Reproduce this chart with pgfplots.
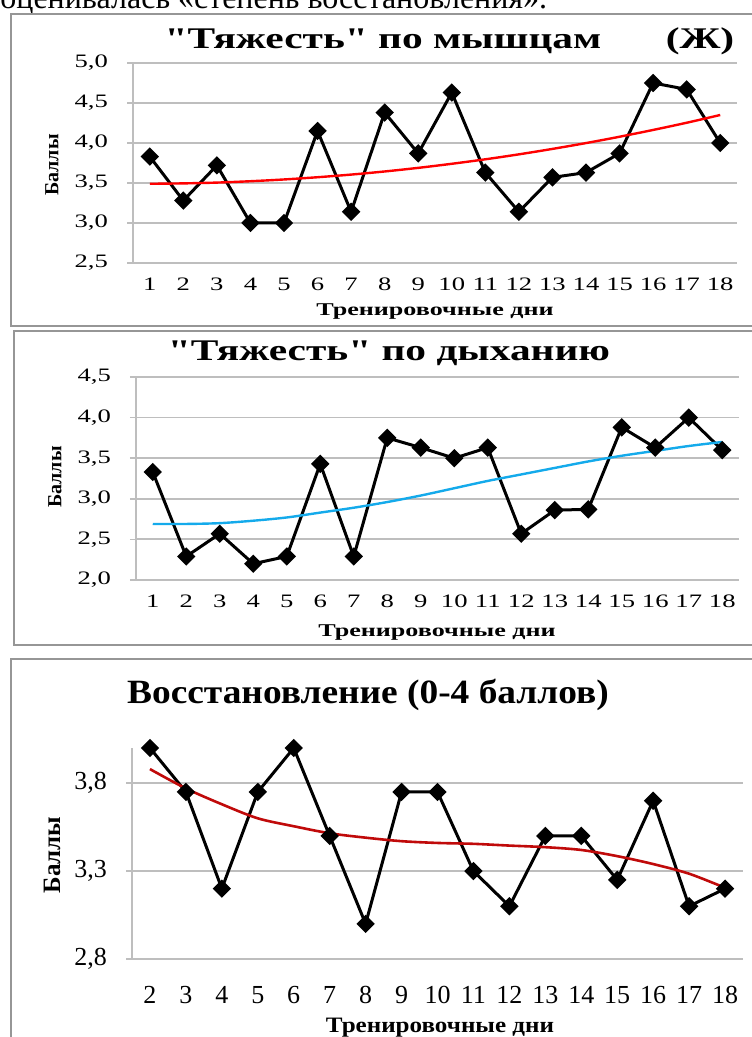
\documentclass[border=0pt]{standalone}
\usepackage{pgfplots}
\pgfplotsset{compat=1.18}
\usepackage{fontspec}
\setmainfont{Liberation Serif}
\newfontfamily\wf{Liberation Serif}[FakeStretch=1.38]
\newfontfamily\tf{Liberation Serif}[FakeStretch=1.4]
\newfontfamily\lf{Liberation Serif}[FakeStretch=1.45]
\newfontfamily\cf{Liberation Serif}[FakeStretch=1.1]
\newfontfamily\cl{Liberation Serif}[FakeStretch=1.14]
\definecolor{gridc}{RGB}{190,190,190}
\definecolor{framec}{RGB}{150,150,150}
\definecolor{trendblue}{RGB}{20,170,235}
\definecolor{trenddark}{RGB}{192,10,10}
\pgfplotsset{
  panel/.style={
    scale only axis,
    axis x line*=bottom, axis y line*=left,
    axis line style={gridc, line width=0.8pt},
    ymajorgrids, grid style={gridc, line width=0.9pt},
    major x tick style={draw=none},
    major y tick style={gridc, line width=0.8pt},
    major tick length=3pt, tick align=outside,
    extra x tick style={grid=none, major tick length=3pt, tick align=outside, tick style={gridc, line width=0.8pt}},
    extra x tick labels={},
    /pgf/number format/assume math mode=true,
    yticklabel style={/pgf/number format/use comma, /pgf/number format/fixed, /pgf/number format/fixed zerofill, /pgf/number format/precision=1, xshift=-6pt},
    clip=false,
  },
  dataline/.style={black, line width=1.5pt, mark=square*, mark size=2.5pt, mark options={solid, fill=black, rotate=45}},
}
\begin{document}
\begin{tikzpicture}[x=0.5pt,y=0.5pt]
\path[use as bounding box] (0,0) rectangle (751,1037);
% partially visible text line at top
\node[anchor=base west, inner sep=0pt, font=\fontsize{16}{16}\selectfont] at (0,1028) {оценивалась «степень восстановления».};
% frames
\draw[framec, line width=0.9pt] (11,1023) rectangle (770,711);
\draw[framec, line width=0.9pt] (14,706) rectangle (770,392);
\draw[framec, line width=0.9pt] (11,378) rectangle (770,-20);

% ---------- Panel 1 ----------
\begin{axis}[panel, at={(66.5pt,387pt)}, anchor=south west,
  width=302pt, height=100pt,
  xmin=0.5, xmax=18.5, ymin=2.5, ymax=5.0,
  xtick={1,...,18}, ytick={2.5,3.0,...,5.0},
  extra x ticks={0.5,1.5,...,18.5},
  ticklabel style={font=\tf\fontsize{9.5}{9.5}\selectfont},
  xticklabel style={yshift=-1pt},
]
\addplot[dataline] coordinates {
(1,3.83) (2,3.28) (3,3.72) (4,3.0) (5,3.0) (6,4.15) (7,3.14) (8,4.38) (9,3.87)
(10,4.63) (11,3.63) (12,3.14) (13,3.57) (14,3.63) (15,3.87) (16,4.75) (17,4.67) (18,4.0)};
\addplot[red, line width=1.2pt, smooth, no marks] coordinates {
(1,3.490) (2,3.495) (3,3.505) (4,3.522) (5,3.544) (6,3.572) (7,3.605) (8,3.644) (9,3.689)
(10,3.740) (11,3.796) (12,3.858) (13,3.926) (14,3.999) (15,4.078) (16,4.163) (17,4.253) (18,4.350)};
\end{axis}
\node[font=\wf\bfseries\fontsize{15}{15}\selectfont] at (383,996) {"Тяжесть" по мышцам};
\node[font=\wf\bfseries\fontsize{15}{15}\selectfont] at (700,996) {(Ж)};
\node[font=\lf\bfseries\fontsize{9}{9}\selectfont] at (435,725) {Тренировочные дни};
\node[font=\bfseries\fontsize{10}{10}\selectfont, rotate=90] at (52,872) {Баллы};

% ---------- Panel 2 ----------
\begin{axis}[panel, at={(68pt,228.5pt)}, anchor=south west,
  width=301.5pt, height=101.5pt,
  xmin=0.5, xmax=18.5, ymin=2.0, ymax=4.5,
  xtick={1,...,18}, ytick={2.0,2.5,...,4.5},
  extra x ticks={0.5,1.5,...,18.5},
  ticklabel style={font=\tf\fontsize{9.5}{9.5}\selectfont},
  xticklabel style={yshift=-1pt},
]
\addplot[dataline] coordinates {
(1,3.33) (2,2.29) (3,2.57) (4,2.2) (5,2.29) (6,3.43) (7,2.29) (8,3.75) (9,3.63)
(10,3.5) (11,3.63) (12,2.57) (13,2.86) (14,2.87) (15,3.88) (16,3.63) (17,4.0) (18,3.6)};
\addplot[trendblue, line width=1.2pt, smooth, no marks] coordinates {
(1,2.69) (2,2.69) (3,2.70) (4,2.73) (5,2.77) (6,2.83) (7,2.89) (8,2.96) (9,3.04)
(10,3.13) (11,3.22) (12,3.30) (13,3.38) (14,3.46) (15,3.53) (16,3.59) (17,3.65) (18,3.70)};
\end{axis}
\node[font=\wf\bfseries\fontsize{15}{15}\selectfont] at (389,684) {"Тяжесть" по дыханию};
\node[font=\lf\bfseries\fontsize{9}{9}\selectfont] at (437,404) {Тренировочные дни};
\node[font=\bfseries\fontsize{10}{10}\selectfont, rotate=90] at (55,560) {Баллы};

% ---------- Panel 3 ----------
\begin{axis}[panel, at={(66pt,39pt)}, anchor=south west,
  width=305.5pt, height=105.5pt,
  xmin=1.5, xmax=18.5, ymin=2.8, ymax=4.0,
  xtick={2,...,18}, ytick={2.8,3.3,3.8},
  extra x ticks={1.5,2.5,...,18.5},
  ticklabel style={font=\fontsize{13}{13}\selectfont},
  xticklabel style={yshift=-7pt},
]
\addplot[dataline] coordinates {
(2,4.0) (3,3.75) (4,3.2) (5,3.75) (6,4.0) (7,3.5) (8,3.0) (9,3.75) (10,3.75)
(11,3.3) (12,3.1) (13,3.5) (14,3.5) (15,3.25) (16,3.70) (17,3.1) (18,3.2)};
\addplot[trenddark, line width=1.3pt, smooth, no marks] coordinates {
(2,3.88) (3,3.77) (4,3.68) (5,3.60) (6,3.555) (7,3.515) (8,3.49) (9,3.47) (10,3.46)
(11,3.455) (12,3.445) (13,3.436) (14,3.42) (15,3.385) (16,3.34) (17,3.285) (18,3.205)};
\end{axis}
\node[font=\cf\bfseries\fontsize{17}{17}\selectfont] at (368,342) {Восстановление (0-4 баллов)};
\node[font=\cl\bfseries\fontsize{11}{11}\selectfont] at (440,9) {Тренировочные дни};
\node[font=\bfseries\fontsize{12.5}{12.5}\selectfont, rotate=90] at (52,182) {Баллы};
\end{tikzpicture}
\end{document}
